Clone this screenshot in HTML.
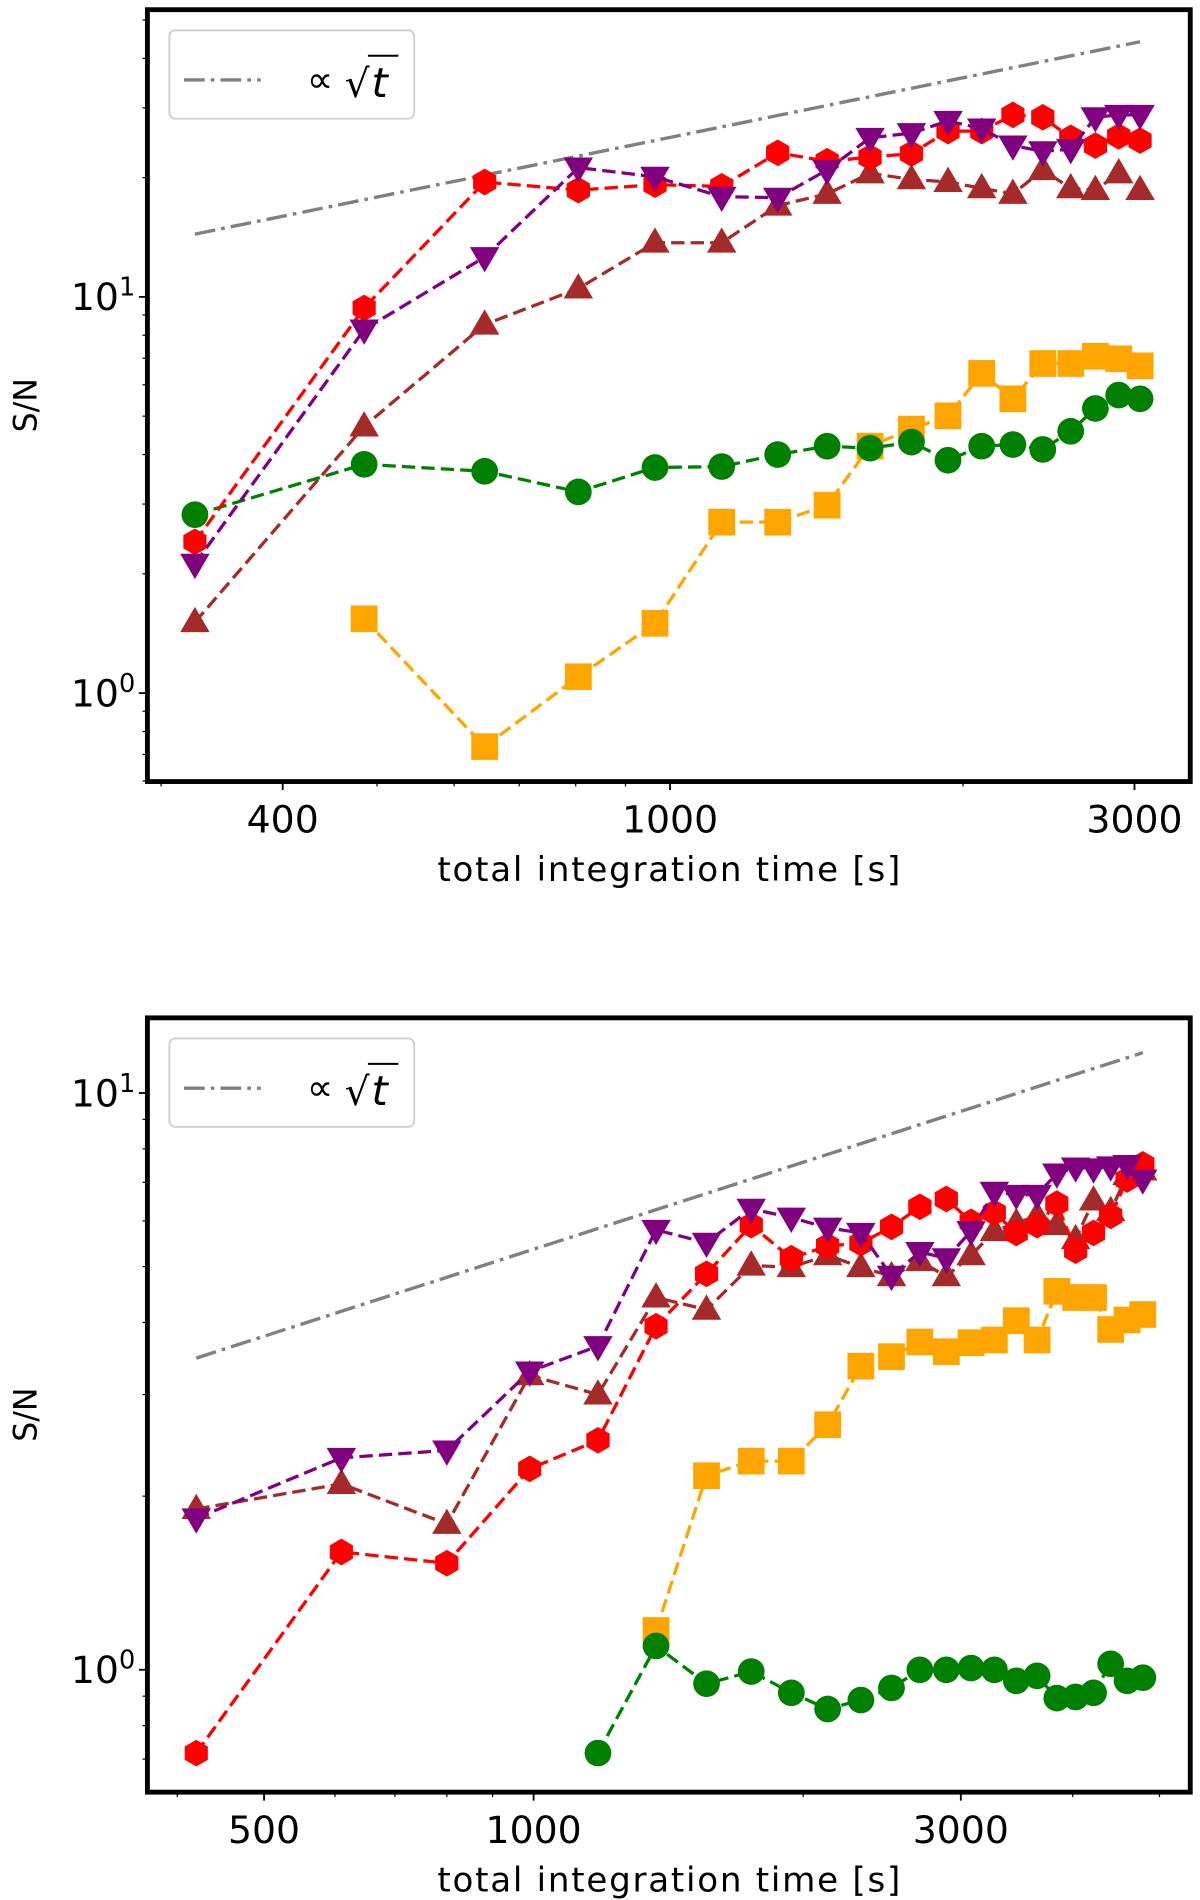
<!DOCTYPE html>
<html><head><meta charset="utf-8">
<style>
html,body{margin:0;padding:0;background:#fff;}
svg{display:block;font-family:"DejaVu Sans","Liberation Sans",sans-serif;}
</style></head>
<body>
<svg id="fig" xmlns="http://www.w3.org/2000/svg" width="1200" height="1900" viewBox="0 0 985 1568" preserveAspectRatio="none"></svg>
<script>
// ---------- Top panel data ----------
const topTimes = [325,485,645,805,965,1130,1290,1450,1605,1770,1930,2090,2250,2415,2580,2735,2890,3040];
const topRed    = [2.41,9.38,19.5,18.6,19.2,19.0,23.1,22.0,22.5,23.0,26.2,26.2,28.8,28.4,25.2,24.1,25.4,24.8];
const topPurple = [2.12,8.27,12.6,21.2,20.1,17.9,17.8,20.9,25.2,25.9,27.8,26.6,24.1,23.3,23.6,28.4,28.8,28.8];
const topBrown  = [1.51,4.71,8.51,10.5,13.7,13.7,17.0,18.2,20.5,19.8,19.5,18.8,18.2,20.9,18.8,18.6,20.5,18.6];
const topGreen  = [2.82,3.78,3.63,3.22,3.71,3.73,4.00,4.20,4.15,4.30,3.87,4.20,4.24,4.12,4.58,5.23,5.65,5.53];
const topOrange = [null,1.54,0.733,1.10,1.50,2.70,2.70,2.98,4.20,4.64,5.01,6.41,5.53,6.79,6.79,7.08,6.98,6.70];
const topSqrtRef = [325,14.4];
const topXTicks = [400,1000,3000];
const topXTickLabels = ["400","1000","3000"];
const topXMinor = [300,500,600,700,800,900,2000];
const topYMajor = [1,10];
const topYExp = ["0","1"];

// ---------- Bottom panel data ----------
const botTimes = [420,610,800,990,1180,1370,1560,1750,1940,2130,2320,2510,2700,2890,3080,3270,3460,3650,3840,4030,4220,4410,4600,4790];
const botRed    = [0.717,1.60,1.53,2.23,2.50,3.94,4.86,5.90,5.17,5.43,5.49,5.86,6.35,6.55,5.98,6.20,5.72,5.90,6.43,5.33,5.72,6.12,7.08,7.52];
const botPurple = [1.83,2.33,2.40,3.29,3.64,5.79,5.50,6.30,6.08,5.84,5.72,4.82,5.30,5.17,5.76,6.74,6.66,6.66,7.25,7.43,7.40,7.46,7.50,7.08];
const botBrown  = [1.90,2.10,1.79,3.24,3.00,4.42,4.21,5.02,4.99,5.23,4.99,4.81,5.11,4.81,5.23,5.76,5.95,6.12,5.90,5.58,6.51,6.24,7.21,7.34];
const botGreen  = [null,null,null,null,0.717,1.10,0.946,0.993,0.912,0.855,0.886,0.930,1.00,1.00,1.007,1.00,0.957,0.976,0.893,0.897,0.912,1.024,0.957,0.969];
const botOrange = [null,null,null,null,null,1.17,2.17,2.30,2.30,2.66,3.36,3.49,3.70,3.56,3.69,3.73,4.03,3.73,4.53,4.42,4.42,3.89,4.04,4.13];
const botSqrtRef = [418,3.47];
const botXTicks = [500,1000,3000];
const botXTickLabels = ["500","1000","3000"];
const botXMinor = [400,600,700,800,900,2000,4000,5000];
const botYMajor = [1,10];
const botYExp = ["0","1"];

const NS = "http://www.w3.org/2000/svg";
const svg = document.getElementById('fig');
function mk(tag, attrs, parent){
  const e = document.createElementNS(NS, tag);
  for (const k in attrs) e.setAttribute(k, attrs[k]);
  (parent||svg).appendChild(e);
  return e;
}

function panel(p, times, series, sqrtRef, xt, xtl, xminor, ymaj, yexp){
  const g = mk('g', {});
  
  
  const X = t => p.x0 + p.xdec * Math.log10(t / 1000);
  const Y = v => p.y0 - p.ydec * Math.log10(v);

  const t0 = times[0], t1 = times[times.length-1];
  const sq = mk('line', {x1:X(t0), y1:Y(sqrtRef[1]), x2:X(t1), y2:Y(sqrtRef[1]*Math.sqrt(t1/sqrtRef[0])),
    stroke:'#808080','stroke-width':2.8,'stroke-dasharray':'17 5 3 5'}, g);
  
  

  series.forEach(s => {
    const sg = mk('g', {}, g);
    
    
    let d = '';
    let started = false;
    s.vals.forEach((v,i) => {
      if (v == null) return;
      d += (started ? 'L' : 'M') + X(times[i]).toFixed(1) + ' ' + Y(v).toFixed(1) + ' ';
      started = true;
    });
    const path = mk('path', {d:d, fill:'none', stroke:s.color, 'stroke-width':2.7, 'stroke-dasharray':'11 5'}, sg);
    
    
    s.vals.forEach((v,i) => {
      if (v == null) return;
      const cx = X(times[i]), cy = Y(v);
      let m;
      const r = 11;
      if (s.shape === 'circle') m = mk('circle', {cx:cx, cy:cy, r:r, fill:s.color}, sg);
      else if (s.shape === 'square') m = mk('rect', {x:cx-r, y:cy-r, width:2*r, height:2*r, fill:s.color}, sg);
      else {
        let pts = [];
        if (s.shape === 'hex') for (let k=0;k<6;k++){ const a = Math.PI/2 + k*Math.PI/3; pts.push([cx+r*Math.cos(a), cy+r*Math.sin(a)]); }
        if (s.shape === 'up') pts = [[cx,cy-r*1.15],[cx-r*1.1,cy+r*0.75],[cx+r*1.1,cy+r*0.75]];
        if (s.shape === 'down') pts = [[cx,cy+r*1.15],[cx-r*1.1,cy-r*0.75],[cx+r*1.1,cy-r*0.75]];
        m = mk('polygon', {points: pts.map(q=>q[0].toFixed(1)+','+q[1].toFixed(1)).join(' '), fill:s.color}, sg);
      }
      
      
    });
  });

  const fr = mk('rect', {x:p.L, y:p.T, width:p.R-p.L, height:p.B-p.T, fill:'none', stroke:'#000', 'stroke-width':4}, g);
  
  

  xt.forEach((t,i) => {
    const x = X(t);
    mk('line', {x1:x, y1:p.B, x2:x, y2:p.B+7, stroke:'#000','stroke-width':1.5}, g);
    const lb = mk('text', {x:x, y:p.B+42, 'font-size':31, 'text-anchor':'middle', fill:'#000'}, g);
    lb.textContent = xtl[i];
    
    
  });
  xminor.forEach(t => { const x = X(t); mk('line', {x1:x, y1:p.B, x2:x, y2:p.B+4, stroke:'#000','stroke-width':1}, g); });

  ymaj.forEach((v,i) => {
    const y = Y(v);
    mk('line', {x1:p.L, y1:y, x2:p.L-7, y2:y, stroke:'#000','stroke-width':1.5}, g);
    const lb = mk('text', {x:p.L-10, y:y+11, 'font-size':31, 'text-anchor':'end', fill:'#000'}, g);
    
    
    const a = document.createElementNS(NS,'tspan'); a.textContent = '10'; lb.appendChild(a);
    const b = document.createElementNS(NS,'tspan'); b.setAttribute('dy','-12'); b.setAttribute('font-size','21'); b.textContent = yexp[i]; lb.appendChild(b);
  });
  const ymin = Math.pow(10, (p.y0 - p.B)/p.ydec), ymax = Math.pow(10, (p.y0 - p.T)/p.ydec);
  for (let e=-1; e<=1; e++) for (let k=2;k<=9;k++){
    const v = k*Math.pow(10,e);
    if (v < ymin || v > ymax) continue;
    const y = Y(v);
    mk('line', {x1:p.L, y1:y, x2:p.L-4, y2:y, stroke:'#000','stroke-width':1}, g);
  }

  const xl = mk('text', {x:(p.L+p.R)/2 + 0, y:p.B+82, 'font-size':28, 'text-anchor':'middle', fill:'#000', textLength:380}, g);
  xl.textContent = 'total integration time [s]';
  
  
  const cy = (p.T+p.B)/2;
  const yl = mk('text', {x:0, y:0, 'font-size':26, 'text-anchor':'middle', fill:'#000', transform:`translate(30 ${cy+8}) rotate(-90)`}, g);
  yl.textContent = 'S/N';
  
  

  const lg = mk('g', {}, g);
  
  
  mk('rect', {x:139, y:p.T+17, width:201, height:73, rx:5, fill:'#fff', stroke:'#d0d0d0', 'stroke-width':1.5}, lg);
  const ll = mk('line', {x1:151, y1:p.T+58, x2:214, y2:p.T+58, stroke:'#808080','stroke-width':2.8,'stroke-dasharray':'17 5 3 5'}, lg);
  
  
  const lt = mk('text', {x:252, y:p.T+68, 'font-size':30, fill:'#000'}, lg);
  lt.textContent = '∝';
  
  
  const rt = mk('text', {x:283, y:p.T+72, 'font-size':32, fill:'#000'}, lg);
  rt.textContent = '√';
  mk('line', {x1:302, y1:p.T+38, x2:327, y2:p.T+38, stroke:'#000','stroke-width':1.6}, lg);
  const tt = mk('text', {x:305, y:p.T+72, 'font-size':34, 'font-style':'italic', fill:'#000'}, lg);
  tt.textContent = 't';
}

const mkSeries = (r,pu,br,gr,or) => [
  {name:'series-orange-squares', color:'#ffa500', shape:'square', vals:or},
  {name:'series-green-circles', color:'#008000', shape:'circle', vals:gr},
  {name:'series-brown-up-triangles', color:'#a52a2a', shape:'up', vals:br},
  {name:'series-red-hexagons', color:'#ff0000', shape:'hex', vals:r},
  {name:'series-purple-down-triangles', color:'#800080', shape:'down', vals:pu},
];

panel({name:'top-panel', L:121, R:977, T:8, B:645, x0:550, xdec:799, y0:572, ydec:327},
  topTimes, mkSeries(topRed, topPurple, topBrown, topGreen, topOrange), topSqrtRef,
  topXTicks, topXTickLabels, topXMinor, topYMajor, topYExp);

panel({name:'bottom-panel', L:121, R:977, T:840, B:1479, x0:438, xdec:735, y0:1378, ydec:476},
  botTimes, mkSeries(botRed, botPurple, botBrown, botGreen, botOrange), botSqrtRef,
  botXTicks, botXTickLabels, botXMinor, botYMajor, botYExp);
</script>
</body></html>
